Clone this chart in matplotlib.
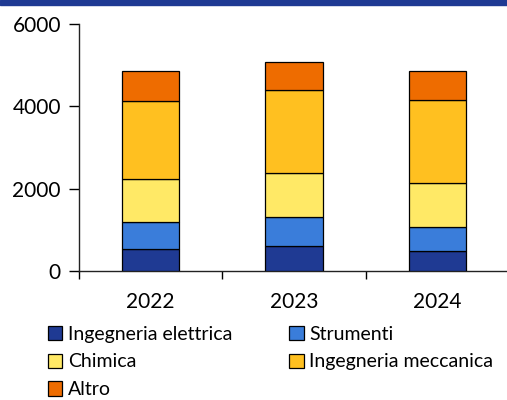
import matplotlib.pyplot as plt
import numpy as np
from matplotlib.patches import Rectangle

years = ['2022', '2023', '2024']
series = ['Ingegneria elettrica', 'Strumenti', 'Chimica', 'Ingegneria meccanica', 'Altro']
ing_elettrica = [530, 605, 492]
strumenti = [661, 710, 581]
chimica = [1048, 1072, 1065]
ing_meccanica = [1881, 2003, 2017]
altro = [751, 678, 695]
colors = ['#1F3A93', '#3A7DDA', '#FFE966', '#FFC020', '#EE6C00']

plt.rcParams['font.family'] = ['Lato', 'DejaVu Sans']

fig = plt.figure(figsize=(5.07, 4.0), dpi=100)
# dark blue strip across the top
fig.patches.append(Rectangle((0, 395 / 400), 1, 5 / 400, transform=fig.transFigure,
                             color='#1F3A93', zorder=0))

ax = fig.add_axes([79 / 507, 1 - 271.3 / 400, 1 - 79 / 507 + 0.004, (271.3 - 24) / 400])

x = np.arange(len(years))
bottom = np.zeros(len(years))
handles = []
for name, vals, c in zip(series, [ing_elettrica, strumenti, chimica, ing_meccanica, altro], colors):
    b = ax.bar(x, vals, width=0.4, bottom=bottom, color=c, edgecolor='black',
               linewidth=0.9, label=name, zorder=3)
    handles.append(b)
    bottom += np.array(vals)

ax.set_xlim(-0.5, 2.5)
ax.set_ylim(0, 6000)
ax.set_yticks([0, 2000, 4000, 6000])
ax.set_xticks([-0.5, 0.5, 1.5, 2.5])
ax.set_xticklabels([])
ax.set_xticks(x, minor=True)
ax.set_xticklabels(years, minor=True)
ax.tick_params(axis='x', which='minor', length=0, pad=15, labelsize=15)
ax.tick_params(axis='x', which='major', length=6, direction='out', width=1)
ax.tick_params(axis='y', length=7, direction='out', width=1, labelsize=15, pad=6)

for s in ['top', 'right']:
    ax.spines[s].set_visible(False)
for s in ['left', 'bottom']:
    ax.spines[s].set_linewidth(1)
    ax.spines[s].set_color('#222222')

# legend, row-major order like the original
order = [0, 2, 4, 1, 3]
fig.legend([handles[i] for i in order], [series[i] for i in order],
           ncol=2, loc='upper left', bbox_to_anchor=(40 / 507, 1 - 318 / 400),
           frameon=False, fontsize=14, handlelength=0.75, handleheight=0.75,
           handletextpad=0.3, columnspacing=2.9, labelspacing=0.55, borderaxespad=0)

fig.savefig('out.png', dpi=100)
